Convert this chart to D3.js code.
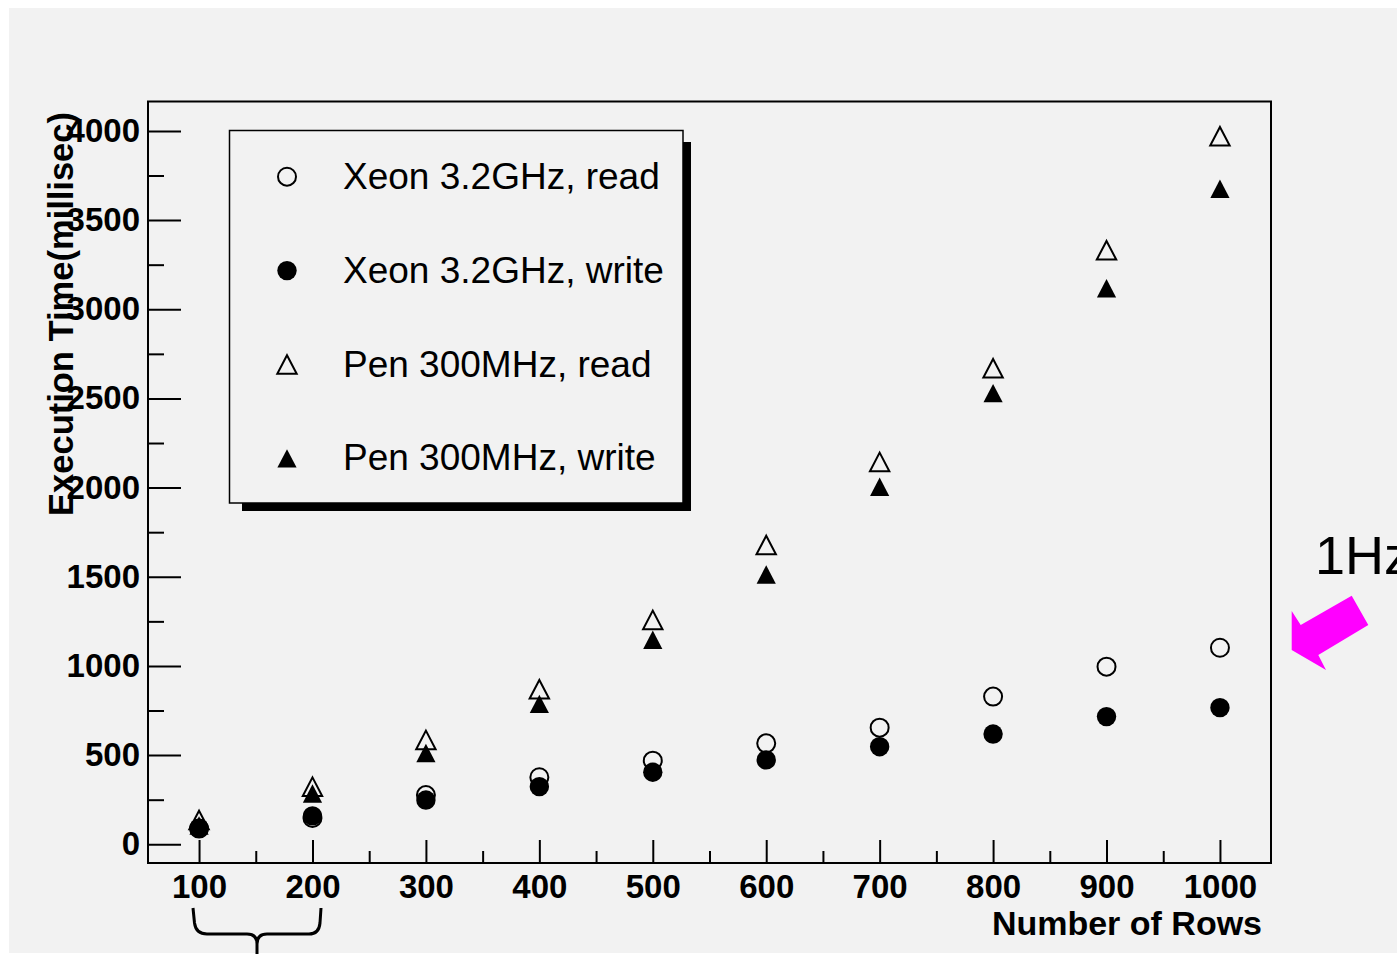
<!DOCTYPE html>
<html>
<head>
<meta charset="utf-8">
<script src="https://cdn.jsdelivr.net/npm/d3@7"></script>
<style>
  html, body { margin: 0; padding: 0; background: #ffffff; }
  svg { display: block; }
  text { font-family: "Liberation Sans", Arial, Helvetica, sans-serif; }
</style>
</head>
<body>
<svg id="chart" width="1397" height="954"></svg>
<script>
// ---- data ----
const rows = [100, 200, 300, 400, 500, 600, 700, 800, 900, 1000];
const xeonRead  = [88, 148, 276, 376, 469, 566, 654, 828, 996, 1102];
const xeonWrite = [90, 159, 248, 323, 404, 473, 547, 618, 716, 766];
const penRead   = [136, 323, 585, 869, 1258, 1678, 2144, 2669, 3331, 3970];
const penWrite  = [105, 285, 512, 787, 1147, 1513, 2005, 2530, 3118, 3676];
const seriesNames = ["Xeon 3.2GHz, read", "Xeon 3.2GHz, write", "Pen 300MHz, read", "Pen 300MHz, write"];
const seriesMarkers = ["openCircle", "filledCircle", "openTriangle", "filledTriangle"];
const xTickValues = [100, 200, 300, 400, 500, 600, 700, 800, 900, 1000];
const xMinorValues = [150, 250, 350, 450, 550, 650, 750, 850, 950];
const yTickValues = [0, 500, 1000, 1500, 2000, 2500, 3000, 3500, 4000];
const yMinorValues = [250, 750, 1250, 1750, 2250, 2750, 3250, 3750];
const xTitle = "Number of Rows";
const yTitle = "Execution Time(millisec)";
const annotation = "1Hz";

const seriesValues = [xeonRead, xeonWrite, penRead, penWrite];

// ---- layout ----
const svg = d3.select("#chart");
const frame = { left: 148, right: 1271, top: 101.5, bottom: 863 };

svg.append("rect").attr("x", 9).attr("y", 8).attr("width", 1388).attr("height", 945).attr("fill", "#f2f2f2");

const x = d3.scaleLinear().domain([55, 1045]).range([frame.left, frame.right]);
const y = d3.scaleLinear().domain([-105, 4165]).range([frame.bottom, frame.top]);

// axes
const xAxis = d3.axisBottom(x).tickValues(xTickValues).tickSizeInner(-23).tickSizeOuter(0).tickPadding(12).tickFormat(d3.format("d"));
const xMinor = d3.axisBottom(x).tickValues(xMinorValues).tickSizeInner(-12).tickSizeOuter(0).tickFormat("");
const yAxis = d3.axisLeft(y).tickValues(yTickValues).tickSizeInner(-33).tickSizeOuter(0).tickPadding(8).tickFormat(d3.format("d"));
const yMinor = d3.axisLeft(y).tickValues(yMinorValues).tickSizeInner(-16).tickSizeOuter(0).tickFormat("");

function styleAxis(g) {
  g.select(".domain").remove();
  g.selectAll("line").attr("stroke", "#000").attr("stroke-width", 2);
  g.selectAll("text").attr("fill", "#000").style("font-size", "33px").style("font-weight", "bold")
    .style("font-family", "'Liberation Sans', Arial, sans-serif");
}

svg.append("g").attr("transform", `translate(0,${frame.bottom})`).call(xAxis).call(styleAxis);
svg.append("g").attr("transform", `translate(0,${frame.bottom})`).call(xMinor).call(styleAxis);
svg.append("g").attr("transform", `translate(${frame.left},0)`).call(yAxis).call(styleAxis);
svg.append("g").attr("transform", `translate(${frame.left},0)`).call(yMinor).call(styleAxis);

// frame
svg.append("rect").attr("x", frame.left).attr("y", frame.top)
  .attr("width", frame.right - frame.left).attr("height", frame.bottom - frame.top)
  .attr("fill", "none").attr("stroke", "#000").attr("stroke-width", 2);

// axis titles
svg.append("text").attr("x", 1262).attr("y", 935).attr("text-anchor", "end")
  .style("font-size", "34px").style("font-weight", "bold").text(xTitle);
svg.append("text").attr("transform", "translate(72.5,112) rotate(-90)").attr("text-anchor", "end")
  .style("font-size", "34.5px").style("font-weight", "bold").text(yTitle);

// markers
function drawMarker(g, type, cx, cy) {
  if (type === "openCircle") {
    g.append("circle").attr("cx", cx).attr("cy", cy).attr("r", 9).attr("fill", "none").attr("stroke", "#000").attr("stroke-width", 2);
  } else if (type === "filledCircle") {
    g.append("circle").attr("cx", cx).attr("cy", cy).attr("r", 9.7).attr("fill", "#000");
  } else if (type === "openTriangle") {
    g.append("path").attr("d", `M${cx},${cy - 9.3}L${cx + 9.7},${cy + 9.3}L${cx - 9.7},${cy + 9.3}Z`)
      .attr("fill", "none").attr("stroke", "#000").attr("stroke-width", 2).attr("stroke-linejoin", "miter");
  } else {
    g.append("path").attr("d", `M${cx},${cy - 9.2}L${cx + 9.6},${cy + 9.2}L${cx - 9.6},${cy + 9.2}Z`).attr("fill", "#000");
  }
}

const pts = svg.append("g");
seriesValues.forEach((vals, si) => {
  rows.forEach((r, i) => drawMarker(pts, seriesMarkers[si], x(r), y(vals[i])));
});

// legend
const leg = svg.append("g");
leg.append("rect").attr("x", 242).attr("y", 142).attr("width", 449).attr("height", 369).attr("fill", "#000");
leg.append("rect").attr("x", 229.5).attr("y", 130.5).attr("width", 453.5).attr("height", 372.5)
  .attr("fill", "#f2f2f2").attr("stroke", "#000").attr("stroke-width", 1.5);
seriesNames.forEach((name, i) => {
  const ry = 176.7 + i * 93.9;
  drawMarker(leg, seriesMarkers[i], 287, ry);
  leg.append("text").attr("x", 343).attr("y", ry + 12).style("font-size", "37px").attr("fill", "#000").text(name);
});

// annotation: 1Hz and arrow
svg.append("text").attr("x", 1315).attr("y", 574).style("font-size", "54px").attr("fill", "#000").text(annotation);
svg.append("path")
  .attr("d", "M1291.7,650 L1291.7,611 L1300.7,625 L1351.7,595.7 L1368.3,625 L1318.3,655 L1326,670 Z")
  .attr("fill", "#ff00ff");

// brace under 100-200
svg.append("path")
  .attr("d", "M193,908 L194.5,923 Q196,934 207,934 L247,934 Q257,934 257,944 L257,954 M257,944 Q257,934 267,934 L309,934 Q319,934 320,923 L321,908")
  .attr("fill", "none").attr("stroke", "#000").attr("stroke-width", 3);
</script>
</body>
</html>
